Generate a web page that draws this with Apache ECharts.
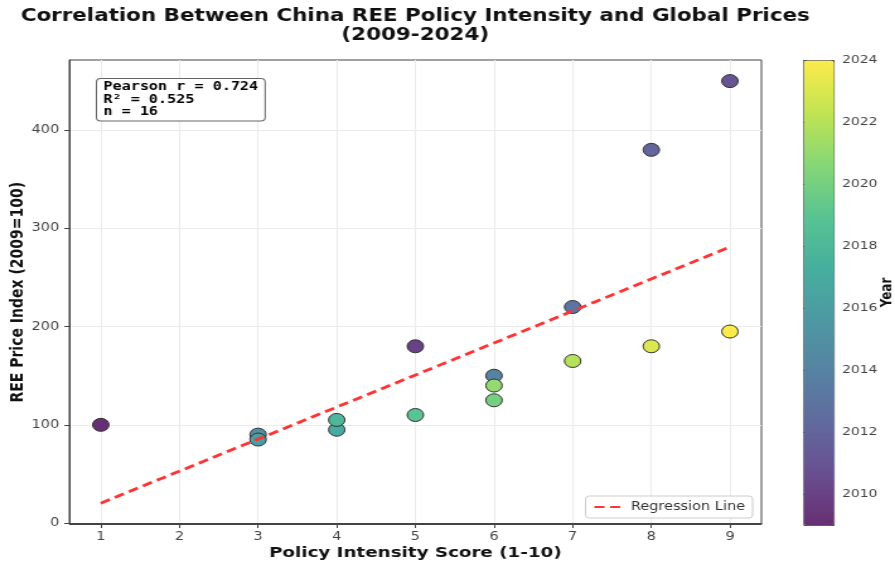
<!DOCTYPE html>
<html>
<head>
<meta charset="utf-8">
<script src="https://cdn.jsdelivr.net/npm/echarts@6/dist/echarts.min.js"></script>
<style>
  html, body { margin: 0; padding: 0; background: #ffffff; overflow: hidden; }
  /* The figure is laid out at 710px wide and widened to fill the 895px page */
  #chart { width: 710px; height: 563px; transform: scaleX(1.2606); transform-origin: 0 0; }
</style>
</head>
<body>
<div id="chart"></div>
<script>
// Yearly observations: policy intensity score vs. REE price index
const years       = [2009, 2010, 2011, 2012, 2013, 2014, 2015, 2016, 2017, 2018, 2019, 2020, 2021, 2022, 2023, 2024];
const policyScore = [1, 5, 9, 8, 7, 6, 3, 3, 4, 4, 5, 6, 6, 7, 8, 9];
const priceIndex  = [100, 180, 450, 380, 220, 150, 90, 85, 95, 105, 110, 125, 140, 165, 180, 195];

// Axis tick values
const xTicks    = [1, 2, 3, 4, 5, 6, 7, 8, 9];
const yTicks    = [0, 100, 200, 300, 400];
const yearTicks = [2010, 2012, 2014, 2016, 2018, 2020, 2022, 2024];

// Summary statistics shown in the annotation box
const statsLines = ['Pearson r = 0.724', 'R\u00b2 = 0.525', 'n = 16'];

// Ordinary least squares fit of price index on policy score
const n = policyScore.length;
const mx = policyScore.reduce((a, b) => a + b, 0) / n;
const my = priceIndex.reduce((a, b) => a + b, 0) / n;
let sxy = 0, sxx = 0;
for (let i = 0; i < n; i++) {
  sxy += (policyScore[i] - mx) * (priceIndex[i] - my);
  sxx += (policyScore[i] - mx) * (policyScore[i] - mx);
}
const slope = sxy / sxx;
const intercept = my - slope * mx;
const xLo = Math.min(...policyScore), xHi = Math.max(...policyScore);
const fitLine = [[xLo, intercept + slope * xLo], [xHi, intercept + slope * xHi]];

// Viridis palette, softened as if drawn at 80% opacity on white
const viridis = ['#440154', '#482878', '#3e4989', '#31688e', '#26828e', '#1f9e89', '#35b779', '#6ece58', '#b5de2b', '#fde725'];
function soften(hex, a) {
  const v = parseInt(hex.slice(1), 16);
  const r = (v >> 16) & 255, g = (v >> 8) & 255, b = v & 255;
  const mix = c => Math.round(c * a + 255 * (1 - a));
  return 'rgb(' + mix(r) + ',' + mix(g) + ',' + mix(b) + ')';
}
const palette = viridis.map(c => soften(c, 0.82));

const FONT = 'DejaVu Sans';
const MONO = 'DejaVu Sans Mono';
const scatterData = years.map((y, i) => [policyScore[i], priceIndex[i], y]);

const chart = echarts.init(document.getElementById('chart'), null, { renderer: 'canvas' });

chart.setOption({
  animation: false,
  backgroundColor: '#ffffff',
  textStyle: { fontFamily: FONT },
  grid: [
    { left: 55, right: 106, top: 60, bottom: 38.5, show: true, borderColor: '#444', borderWidth: 1,
      containLabel: false, outerBoundsMode: 'none' },
    { left: 637.3, top: 60, width: 23.8, height: 465, show: false, outerBoundsMode: 'none' }
  ],
  xAxis: [
    {
      type: 'value', gridIndex: 0, min: 0.6, max: 9.4,
      name: 'Policy Intensity Score (1-10)', nameLocation: 'middle', nameGap: 21, nameMoveOverlap: false,
      nameTextStyle: { fontFamily: FONT, fontWeight: 'bold', fontSize: 14.5, color: '#111' },
      axisLine: { show: true, lineStyle: { color: '#444', width: 1 } },
      axisTick: { show: true, customValues: xTicks, length: 5, lineStyle: { color: '#444' } },
      axisLabel: { customValues: xTicks, fontSize: 11.5, color: '#444', margin: 7, fontFamily: FONT },
      splitLine: { show: true, lineStyle: { color: '#ebebeb', width: 1 } }
    },
    { type: 'value', gridIndex: 1, min: 0, max: 1, show: false }
  ],
  yAxis: [
    {
      type: 'value', gridIndex: 0, min: -1.5, max: 471.5,
      name: 'REE Price Index (2009=100)', nameLocation: 'middle', nameGap: 34, nameMoveOverlap: false,
      nameTextStyle: { fontFamily: FONT, fontWeight: 'bold', fontSize: 14, color: '#111' },
      axisLine: { show: true, lineStyle: { color: '#444', width: 1 } },
      axisTick: { show: true, customValues: yTicks, length: 4, lineStyle: { color: '#444' } },
      axisLabel: { customValues: yTicks, fontSize: 11.5, color: '#444', margin: 8, fontFamily: FONT },
      splitLine: { show: true, lineStyle: { color: '#ebebeb', width: 1 } }
    },
    {
      type: 'value', gridIndex: 1, min: 2009, max: 2024, position: 'right',
      name: 'Year', nameLocation: 'middle', nameGap: 37, nameRotate: 90, nameMoveOverlap: false,
      nameTextStyle: { fontFamily: FONT, fontWeight: 'bold', fontSize: 12, color: '#111' },
      axisLine: { show: false },
      axisTick: { show: true, customValues: yearTicks, length: 4, lineStyle: { color: '#444' } },
      axisLabel: { customValues: yearTicks, fontSize: 11, color: '#444', margin: 7, fontFamily: FONT,
                   formatter: v => String(v) },
      splitLine: { show: false }
    }
  ],
  visualMap: {
    type: 'continuous',
    min: 2009, max: 2024,
    dimension: 2,
    seriesIndex: 0,
    left: 637.3, top: 60,
    itemWidth: 23.8, itemHeight: 465,
    padding: 0,
    calculable: false,
    hoverLink: false,
    text: null,
    borderColor: '#444', borderWidth: 1,
    inRange: { color: palette }
  },
  legend: {
    data: ['Regression Line'],
    right: 113, bottom: 45,
    backgroundColor: '#ffffff',
    borderColor: '#cccccc', borderWidth: 1, borderRadius: 3,
    padding: [5, 6, 5, 6],
    itemWidth: 24, itemHeight: 10, itemGap: 6,
    itemStyle: { opacity: 0 },
    textStyle: { fontFamily: FONT, fontSize: 11.5, color: '#333' }
  },
  graphic: [
    {
      type: 'text', x: 329.4, y: 7.5, z: 100,
      style: {
        text: 'Correlation Between China REE Policy Intensity and Global Prices\n(2009-2024)',
        textAlign: 'center', font: 'bold 17px ' + FONT, fill: '#111', lineHeight: 19
      }
    },
    {
      type: 'text', x: 77, y: 79, z: 100,
      style: {
        text: statsLines.join('\n'),
        font: 'bold 12px ' + MONO, fill: '#000', lineHeight: 12.5,
        backgroundColor: '#ffffff', borderColor: '#666', borderWidth: 1, borderRadius: 3,
        padding: [2, 5, 2, 5]
      }
    }
  ],
  series: [
    {
      type: 'scatter',
      xAxisIndex: 0, yAxisIndex: 0,
      data: scatterData,
      symbolSize: 13,
      itemStyle: { borderColor: '#333', borderWidth: 1, opacity: 1 },
      z: 2
    },
    {
      name: 'Regression Line',
      type: 'line',
      xAxisIndex: 0, yAxisIndex: 0,
      data: fitLine,
      symbol: 'none',
      lineStyle: { color: '#ff3333', width: 2.8, type: [8, 4.5] },
      itemStyle: { color: '#ff3333' },
      z: 3
    }
  ]
});
</script>
</body>
</html>
